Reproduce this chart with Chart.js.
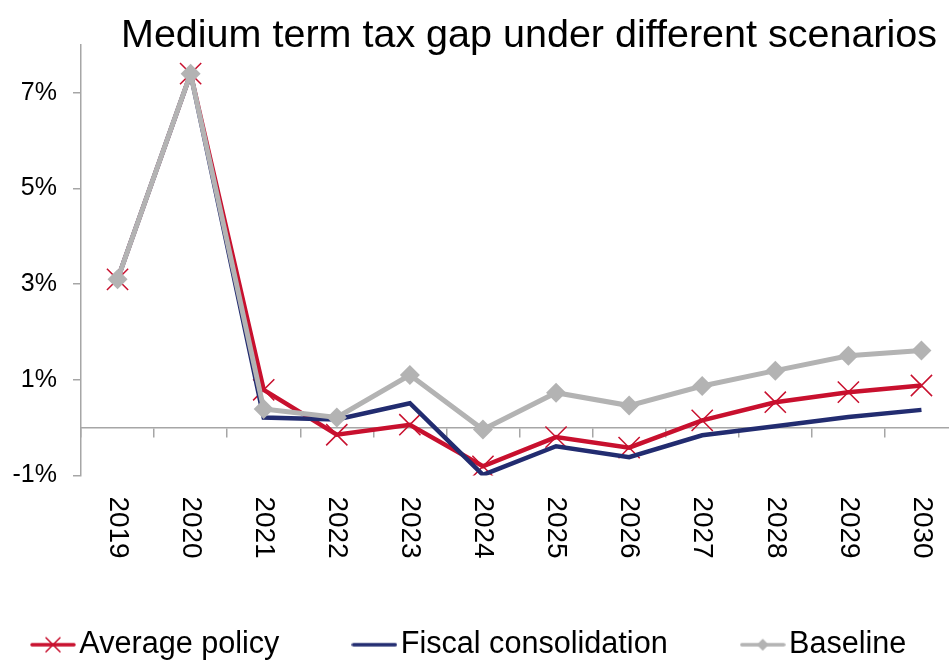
<!DOCTYPE html>
<html>
<head>
<meta charset="utf-8">
<script src="https://cdn.jsdelivr.net/npm/chart.js@4.4.1/dist/chart.umd.min.js"></script>
<style>
  html, body { margin: 0; padding: 0; background: #ffffff; overflow: hidden; }
  #wrap { position: relative; width: 949px; height: 660px; overflow: hidden; background: #fff; }
  #chart { position: absolute; left: -42px; top: 0; }
  #title { position: absolute; left: 121px; top: 13px; font-family: "Liberation Sans", Arial, sans-serif;
           font-size: 39.5px; line-height: 40px; color: #000; white-space: nowrap; z-index: 2; }
</style>
</head>
<body>
<div id="wrap">
  <div id="title">Medium term tax gap under different scenarios</div>
  <canvas id="chart" width="1040" height="670"></canvas>
</div>
<script>
// ---- data ----
const years = ["2019","2020","2021","2022","2023","2024","2025","2026","2027","2028","2029","2030"];
const averagePolicy = [3.1, 7.4, 0.79, -0.15, 0.06, -0.81, -0.2, -0.42, 0.15, 0.53, 0.74, 0.88];
const fiscalConsolidation = [3.1, 7.4, 0.21, 0.17, 0.51, -0.99, -0.39, -0.62, -0.16, 0.03, 0.22, 0.37];
const baseline = [3.1, 7.4, 0.39, 0.21, 1.1, -0.04, 0.73, 0.46, 0.87, 1.19, 1.5, 1.61];
const seriesNames = ["Average policy", "Fiscal consolidation", "Baseline"];
const yTickValues = [-1, 1, 3, 5, 7];

// ---- styles ----
const RED = "#C8102E";
const NAVY = "#222C70";
const GRAY = "#B3B3B3";
const AXIS = "#A6A6A6";
const FONT = "'Liberation Sans', Arial, sans-serif";

function makeIcon(color, lineW, marker) {
  const c = document.createElement("canvas");
  c.width = 46; c.height = 24;
  const g = c.getContext("2d");
  g.strokeStyle = color; g.lineWidth = lineW; g.lineCap = "round";
  g.beginPath(); g.moveTo(2, 12); g.lineTo(44, 12); g.stroke();
  if (marker === "x") {
    g.lineWidth = 1.5;
    g.beginPath(); g.moveTo(16, 5); g.lineTo(30, 19); g.moveTo(30, 5); g.lineTo(16, 19); g.stroke();
  } else if (marker === "diamond") {
    g.fillStyle = color;
    g.beginPath(); g.moveTo(23, 6); g.lineTo(29, 12); g.lineTo(23, 18); g.lineTo(17, 12); g.closePath(); g.fill();
  }
  return c;
}
const icons = [makeIcon(RED, 3.5, "x"), makeIcon(NAVY, 3.5, null), makeIcon(GRAY, 3.5, "diamond")];

const rotatedLabels = {
  id: "rotatedLabels",
  afterDraw(chart) {
    const xs = chart.scales.x;
    const ctx = chart.ctx;
    ctx.save();
    ctx.font = "28px " + FONT;
    ctx.fillStyle = "#000";
    ctx.textAlign = "left";
    ctx.textBaseline = "middle";
    years.forEach((lab, i) => {
      const px = xs.getPixelForTick(i);
      ctx.save();
      ctx.translate(px, chart.chartArea.bottom + 21);
      ctx.rotate(Math.PI / 2);
      ctx.fillText(lab, 0, 0);
      ctx.restore();
    });
    ctx.restore();
  }
};

new Chart(document.getElementById("chart"), {
  type: "line",
  data: {
    labels: years,
    datasets: [
      {
        label: seriesNames[0], data: averagePolicy, order: 3,
        borderColor: RED, borderWidth: 4.5, tension: 0,
        pointStyle: "crossRot", pointRadius: 15, pointBorderWidth: 1.5,
        pointBorderColor: RED, pointBackgroundColor: RED
      },
      {
        label: seriesNames[1], data: fiscalConsolidation, order: 2,
        borderColor: NAVY, borderWidth: 4.5, tension: 0, pointRadius: 0
      },
      {
        label: seriesNames[2], data: baseline, order: 1,
        borderColor: GRAY, borderWidth: 5, tension: 0,
        pointStyle: "rectRot", pointRadius: 10, pointBorderWidth: 0,
        pointBackgroundColor: GRAY, pointBorderColor: GRAY
      }
    ]
  },
  options: {
    responsive: false,
    animation: false,
    events: [],
    layout: { padding: { top: 45, left: 0, right: 0, bottom: 0 } },
    plugins: {
      title: { display: false },
      tooltip: { enabled: false },
      legend: {
        position: "bottom",
        align: "start",
        labels: {
          usePointStyle: true,
          boxWidth: 22,
          boxHeight: 22,
          padding: 84,
          color: "#000",
          font: { family: FONT, size: 30.6 },
          generateLabels: (chart) => chart.data.datasets.map((ds, i) => ({
            text: ds.label, pointStyle: icons[i], datasetIndex: i, hidden: false,
            fillStyle: "transparent", strokeStyle: "transparent", lineWidth: 0, fontColor: "#000"
          }))
        }
      }
    },
    scales: {
      x: {
        type: "category", position: "bottom", offset: true,
        grid: { display: false }, border: { display: false },
        ticks: { display: false },
        afterFit: (s) => { s.height = 70; }
      },
      xz: {
        type: "category", position: { y: 0 }, offset: true,
        grid: { display: true, offset: true, drawOnChartArea: false, drawTicks: true, tickLength: 9, color: AXIS, lineWidth: 1.5 },
        border: { display: true, color: AXIS, width: 1.5 },
        ticks: { display: false }
      },
      y: {
        type: "linear", position: "left", min: -1, max: 8,
        grid: { display: true, drawOnChartArea: false, drawTicks: true, tickLength: 8, color: AXIS, lineWidth: 1.5 },
        border: { display: true, color: AXIS, width: 1.5 },
        afterBuildTicks: (s) => { s.ticks = yTickValues.map(v => ({ value: v })); },
        ticks: {
          padding: 16, color: "#000",
          font: { family: FONT, size: 25 },
          callback: (v) => v + "%"
        },
        afterFit: (s) => { s.width = 123; }
      },
      yR: {
        type: "linear", position: "right", display: true,
        grid: { display: false }, border: { display: false }, ticks: { display: false },
        afterFit: (s) => { s.width = 40; }
      }
    }
  },
  plugins: [rotatedLabels]
});
</script>
</body>
</html>
